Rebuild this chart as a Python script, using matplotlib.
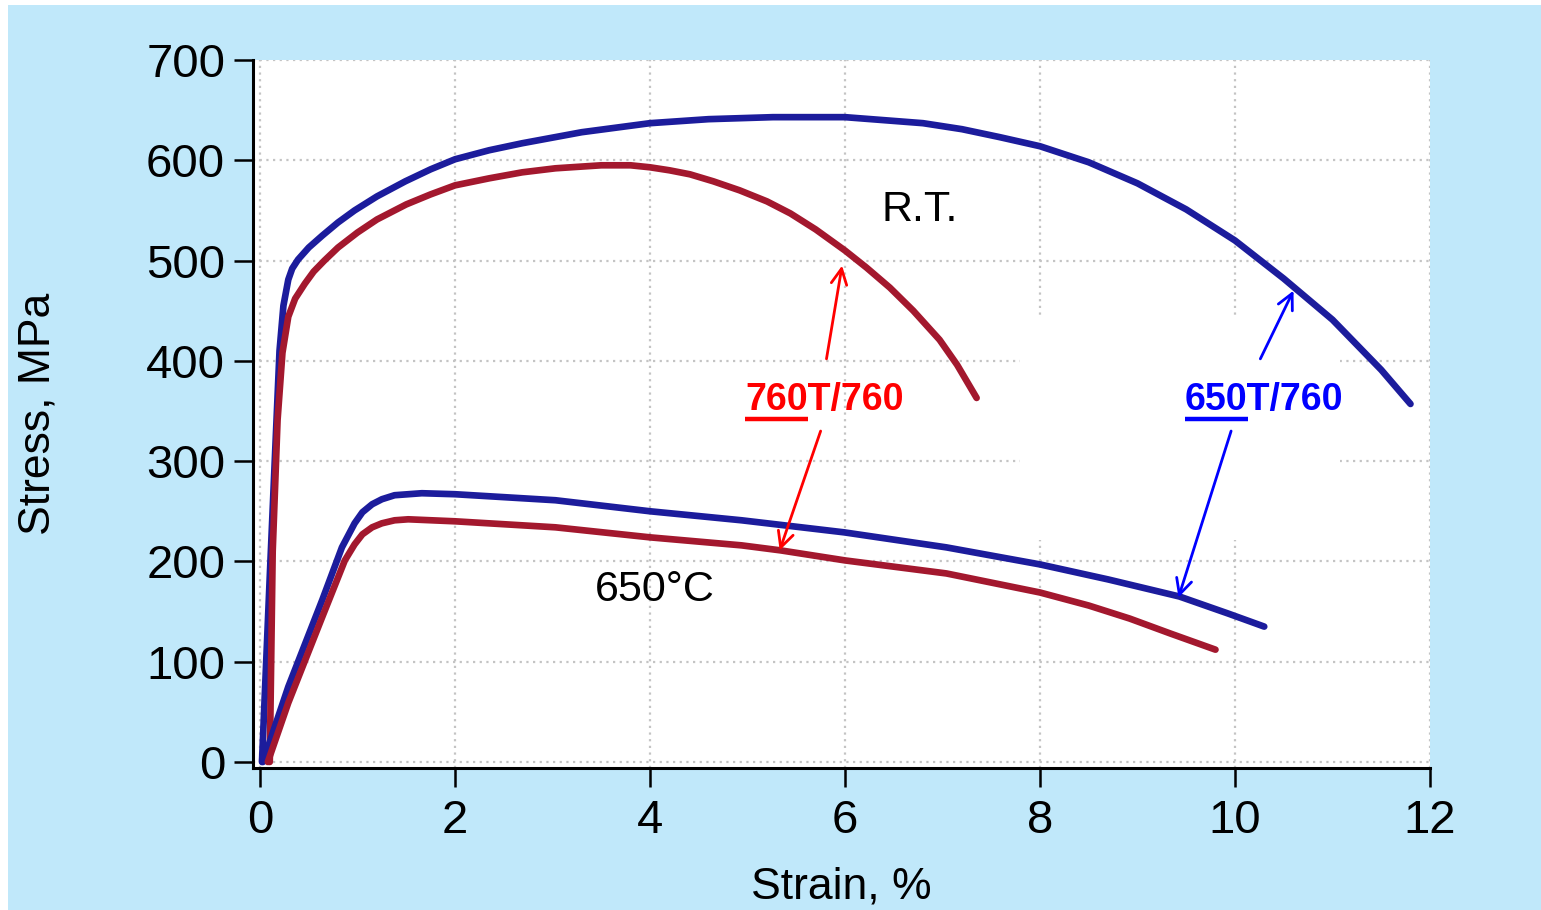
import matplotlib.pyplot as plt
from matplotlib.patches import Rectangle
from matplotlib.lines import Line2D

# Stress-strain data (strain %, stress MPa)
rt_650_strain = [0.02, 0.1, 0.2, 0.24, 0.29, 0.33, 0.39, 0.5, 0.64, 0.8, 0.97, 1.2, 1.49, 1.75, 2.0,
                 2.35, 2.69, 3.3, 4.0, 4.6, 5.26, 6.0, 6.8, 7.2, 7.59, 8.0, 8.5, 9.0, 9.5, 10.0,
                 10.5, 11.0, 11.5, 11.8]
rt_650_stress = [0, 185, 410, 455, 481, 492, 501, 513, 525, 538, 550, 564, 579, 591, 601,
                 610, 617, 628, 637, 641, 643, 643, 637, 631, 623, 614, 598, 577, 551, 520,
                 482, 441, 391, 357]

rt_760_strain = [0.1, 0.13, 0.18, 0.23, 0.29, 0.36, 0.46, 0.55, 0.66, 0.8, 1.0, 1.2, 1.5, 1.75, 2.0,
                 2.35, 2.69, 3.03, 3.5, 3.8, 4.0, 4.2, 4.41, 4.65, 4.92, 5.2, 5.44, 5.7, 6.0,
                 6.22, 6.46, 6.7, 6.97, 7.15, 7.35]
rt_760_stress = [0, 210, 341, 408, 444, 462, 477, 489, 500, 513, 528, 541, 556, 566, 575,
                 582, 588, 592, 595, 595, 593, 590, 586, 579, 570, 559, 547, 531, 510,
                 493, 473, 450, 421, 396, 363]

ht_650_strain = [0.03, 0.29, 0.64, 0.84, 0.97, 1.05, 1.15, 1.25, 1.38, 1.66, 2.0, 3.03, 4.0, 4.94,
                 5.99, 7.04, 8.0, 8.7, 9.43, 9.93, 10.3]
ht_650_stress = [0, 75, 162, 214, 238, 249, 257, 262, 266, 268, 267, 261, 250, 241,
                 229, 214, 197, 182, 165, 148, 135]

ht_760_strain = [0.08, 0.29, 0.64, 0.87, 0.97, 1.05, 1.15, 1.25, 1.38, 1.52, 2.0, 3.03, 4.0,
                 4.94, 5.34, 6.0, 7.04, 8.0, 8.5, 8.92, 9.34, 9.8]
ht_760_stress = [0, 59, 145, 201, 217, 227, 234, 238, 241, 242, 240, 234, 224,
                 216, 211, 201, 188, 169, 156, 143, 128, 112]

x_ticks = [0, 2, 4, 6, 8, 10, 12]
y_ticks = [0, 100, 200, 300, 400, 500, 600, 700]

BLUE = '#1c1c9c'
RED = '#a3182e'
BG = '#c0e8fa'

plt.rcParams['font.family'] = ['Liberation Sans', 'DejaVu Sans']

fig = plt.figure(figsize=(15.41, 9.10), dpi=100, facecolor='white')
# light blue panel (thin white margin at top/left like the original)
fig.patches.append(Rectangle((8 / 1541, 0), 1 - 8 / 1541, 1 - 5 / 910,
                             transform=fig.transFigure, facecolor=BG,
                             edgecolor='none', zorder=-10))

ax = fig.add_axes([253 / 1541, 1 - 768 / 910, (1430 - 253) / 1541, (768 - 60) / 910])
ax.set_facecolor('white')
ax.set_xlim(-0.072, 12)
ax.set_ylim(-6, 700)

ax.set_axisbelow(True)
ax.grid(True, linestyle=(0, (1, 2)), color='#c4c4c4', linewidth=1.6)

# white box that hides the grid behind the right-hand label
ax.add_patch(Rectangle((7.79, 221), 3.29, 222, facecolor='white',
                       edgecolor='none', zorder=1))

lw = 4.8
for xs, ys, col in [(rt_650_strain, rt_650_stress, BLUE),
                    (rt_760_strain, rt_760_stress, RED),
                    (ht_650_strain, ht_650_stress, BLUE),
                    (ht_760_strain, ht_760_stress, RED)]:
    ax.plot(xs, ys, color=col, lw=lw, zorder=3, solid_capstyle='round', solid_joinstyle='round')

ax.set_xticks(x_ticks)
ax.set_yticks(y_ticks)
for s in ['top', 'right']:
    ax.spines[s].set_visible(False)
for s in ['left', 'bottom']:
    ax.spines[s].set_linewidth(2.2)
ax.tick_params(axis='both', direction='out', length=14, width=1.8, labelsize=34, colors='black')
ax.tick_params(axis='y', pad=6)
ax.tick_params(axis='x', pad=8)

ax.set_xlabel('Strain, %', fontsize=32, labelpad=17)
ax.set_ylabel('Stress, MPa', fontsize=32, labelpad=63)

ax.text(6.77, 550, 'R.T.', fontsize=31, ha='center', va='center')
ax.text(4.05, 171, '650°C', fontsize=31, ha='center', va='center')

# labels with arrows
lab_font = dict(fontsize=27, fontweight='bold', family=['Liberation Sans', 'DejaVu Sans'])
labels = [
    ('760T/760', '760', 'red', (5.79, 361), [(5.97, 495), (5.33, 211)], [(5.81, 402), (5.75, 330)]),
    ('650T/760', '650', 'blue', (10.3, 361), [(10.6, 470), (9.42, 164)], [(10.26, 402), (9.96, 330)]),
]
fig.canvas.draw()
renderer = fig.canvas.get_renderer()
for text, under, col, pos, tips, starts in labels:
    t = ax.text(pos[0], pos[1], text, color=col, ha='center', va='center', zorder=5, **lab_font)
    for tip, start in zip(tips, starts):
        ax.annotate('', xy=tip, xytext=start,
                    arrowprops=dict(arrowstyle='->', color=col, lw=2, mutation_scale=28,
                                    shrinkA=0, shrinkB=0), zorder=4)
    # underline the first part of the label
    bb = t.get_window_extent(renderer)
    part = ax.text(0, 0, under, **lab_font)
    pw = part.get_window_extent(renderer).width
    part.remove()
    y0 = bb.y0 - 1
    fig.lines.append(Line2D([bb.x0, bb.x0 + pw], [y0, y0], transform=None,
                            color=col, lw=3.2, solid_capstyle='butt'))

plt.savefig('out.png', dpi=100, facecolor=fig.get_facecolor())
